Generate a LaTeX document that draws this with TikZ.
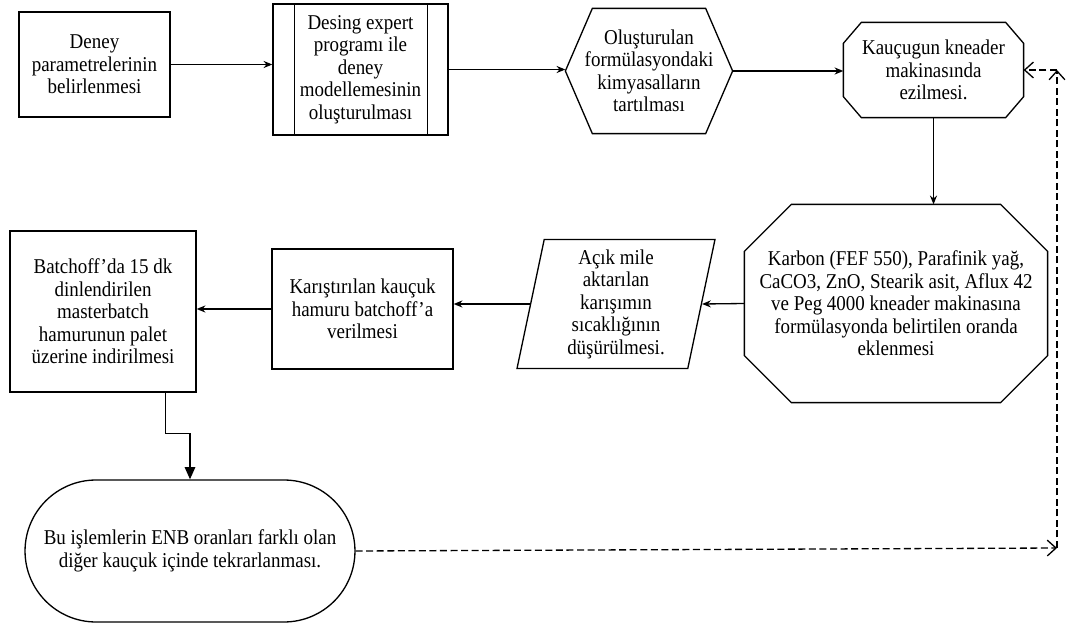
\documentclass[tikz,border=0pt]{standalone}
\usepackage{fontspec}
\setmainfont{Liberation Serif}[FakeStretch=0.9]
\usetikzlibrary{shapes.misc,shapes.geometric,arrows.meta}

\begin{document}
\begin{tikzpicture}[x=0.02cm, y=-0.02cm, line width=0.75pt,
    >={Stealth[length=5pt,width=4pt]},
    every node/.style = {align=center, inner sep=0pt, font=\fontsize{12}{12.8}\selectfont},
    kutu/.style = {draw, rectangle},
    sekil/.style = {rectangle},
    geri/.style = {dash pattern=on 4pt off 2pt, -{Straight Barb[length=5pt,width=9pt]}}
    ]
    \useasboundingbox (0,0) rectangle (1066,625);

    \node[kutu, minimum width=3.02cm, minimum height=2.10cm] (param) at (94.5,64.5)
      {Deney\\parametrelerinin\\belirlenmesi};
    \node[kutu, minimum width=3.50cm, minimum height=2.62cm] (desing) at (360.5,69.5)
      {Desing expert\\programı ile\\deney\\modellemesinin\\oluşturulması};
    \draw ([xshift=0.44cm]desing.north west) -- ([xshift=0.44cm]desing.south west);
    \draw ([xshift=-0.42cm]desing.north east) -- ([xshift=-0.42cm]desing.south east);

    % altigen
    \node[sekil, minimum width=3.32cm, minimum height=2.48cm] (tartim) at (649,71)
      {Oluşturulan\\formülasyondaki\\kimyasalların\\tartılması};
    \draw ([xshift=0.54cm]tartim.north west) -- ([xshift=-0.54cm]tartim.north east) -- (tartim.east)
      -- ([xshift=-0.54cm]tartim.south east) -- ([xshift=0.54cm]tartim.south west) -- (tartim.west) -- cycle;

    % sekizgenler
    \node[sekil, minimum width=3.58cm, minimum height=1.88cm] (kneader) at (933.5,70)
      {Kauçugun kneader\\makinasında\\ezilmesi.};
    \draw ([xshift=0.36cm]kneader.north west) -- ([xshift=-0.36cm]kneader.north east)
      -- ([yshift=-0.42cm]kneader.north east) -- ([yshift=0.42cm]kneader.south east)
      -- ([xshift=-0.36cm]kneader.south east) -- ([xshift=0.36cm]kneader.south west)
      -- ([yshift=0.42cm]kneader.south west) -- ([yshift=-0.42cm]kneader.north west) -- cycle;
    \node[sekil, minimum width=6.04cm, minimum height=3.94cm] (ekleme) at (896,303.5)
      {Karbon (FEF 550), Parafinik yağ,\\CaCO3, ZnO, Stearik asit, Aflux 42\\ve Peg 4000 kneader makinasına\\formülasyonda belirtilen oranda\\eklenmesi};
    \draw ([xshift=0.94cm]ekleme.north west) -- ([xshift=-0.94cm]ekleme.north east)
      -- ([yshift=-0.94cm]ekleme.north east) -- ([yshift=0.94cm]ekleme.south east)
      -- ([xshift=-0.94cm]ekleme.south east) -- ([xshift=0.94cm]ekleme.south west)
      -- ([yshift=0.94cm]ekleme.south west) -- ([yshift=-0.94cm]ekleme.north west) -- cycle;

    \node[draw, trapezium, trapezium left angle=76, trapezium right angle=104, trapezium stretches body,
      minimum width=3.96cm, minimum height=2.58cm] (sogutma) at (616,304)
      {Açık mile\\aktarılan\\karışımın\\sıcaklığının\\düşürülmesi.};
    \node[kutu, minimum width=3.62cm, minimum height=2.40cm] (batchoff) at (362.5,309)
      {Karıştırılan kauçuk\\hamuru batchoff'a\\verilmesi};
    \node[kutu, minimum width=3.72cm, minimum height=3.22cm] (palet) at (103,311.5)
      {Batchoff'da 15 dk\\dinlendirilen\\masterbatch\\hamurunun palet\\üzerine indirilmesi};
    \node[draw, rounded rectangle, minimum width=6.6cm, minimum height=2.84cm] (tekrar) at (190,551)
      {Bu işlemlerin ENB oranları farklı olan\\diğer kauçuk içinde tekrarlanması.};

    \coordinate (donus) at (1057,548);
    \coordinate (ust) at (1057,70);

    \draw[->] (param) -- (param -| desing.west);
    \draw[->] (desing.east) -- (desing.east -| tartim.west);
    \draw[->] (tartim.east) -- (tartim.east -| kneader.west);
    \draw[->] (kneader.south) -- (kneader.south |- ekleme.north);
    \draw[->] (ekleme.west) -- (sogutma.east);
    \draw[->] (sogutma.west) -- (sogutma.west -| batchoff.east);
    \draw[->] (batchoff.west) -- (batchoff.west -| palet.east);
    \draw[-{Triangle[length=7pt,width=6pt]}] ([xshift=-0.62cm]palet.south east) -- ++(0,41) -| (tekrar.north);

    \draw[geri] (tekrar.east) -- (donus);
    \draw[geri] (donus) -- (ust);
    \draw[geri] (ust) -- (kneader.east);
\end{tikzpicture}
\end{document}
